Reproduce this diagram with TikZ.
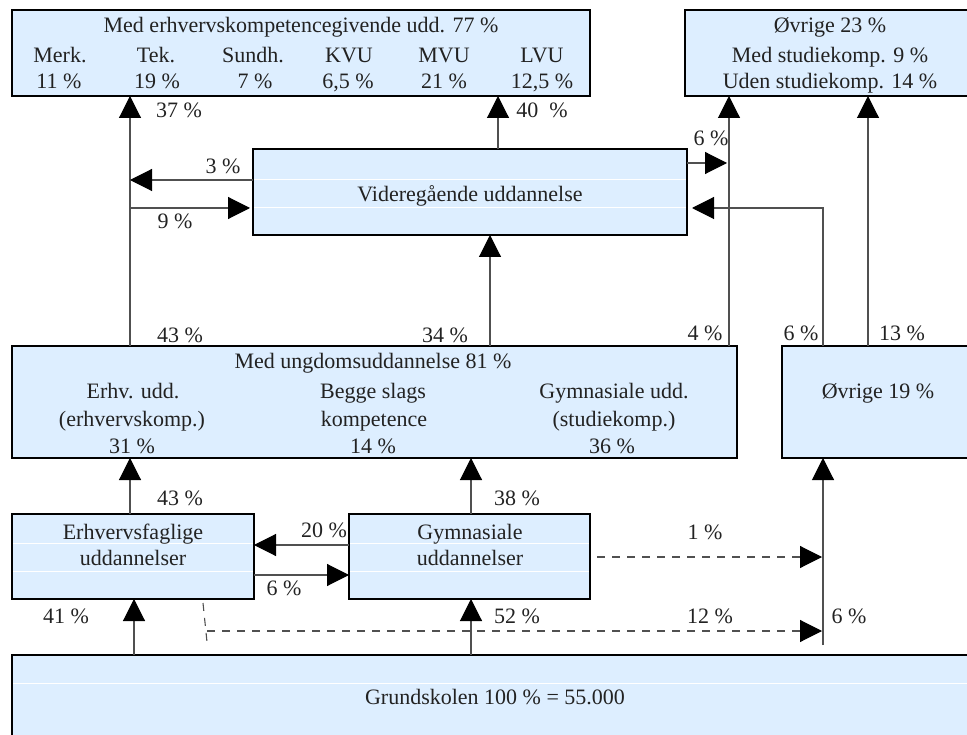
\documentclass[tikz,border=0pt]{standalone}
\usepackage{fontspec}
\setmainfont{Liberation Serif}
\usetikzlibrary{arrows.meta}
\definecolor{boxfill}{RGB}{221,238,255}
\definecolor{linec}{RGB}{80,80,80}
\definecolor{textc}{RGB}{34,34,34}
\begin{document}
\begin{tikzpicture}[x=1pt,y=-1pt,
 box/.style={draw=black, line width=1.7pt, fill=boxfill, inner sep=0pt, outer sep=0pt, anchor=north west},
 txt/.style={inner sep=0pt, anchor=base, text=textc, font=\fontsize{22}{26}\selectfont},
 conn/.style={draw=linec, line width=1.1pt, -{Triangle[length=22pt,width=22pt,black]}},
 dconn/.style={conn, dash pattern=on 8pt off 7pt},
 plainline/.style={draw=linec, line width=1.1pt},
 dplain/.style={plainline, dash pattern=on 8pt off 7pt},
 rowline/.style={draw=white, line width=0.8pt}]
\useasboundingbox (0,0) rectangle (967,735);
\clip (0,0) rectangle (967,735);

% boxes
\node[box, minimum width=578pt, minimum height=86pt] (topleft) at (12,10) {};
\node[box, minimum width=290pt, minimum height=86pt] (topright) at (685,10) {};
\node[box, minimum width=434pt, minimum height=86pt] (vid) at (253,149) {};
\node[box, minimum width=725pt, minimum height=112pt] (ungdom) at (12,346) {};
\node[box, minimum width=193pt, minimum height=112pt] (ovr) at (782,346) {};
\node[box, minimum width=242pt, minimum height=85pt] (erhv) at (12,514) {};
\node[box, minimum width=241pt, minimum height=85pt] (gym) at (349,514) {};
\node[box, minimum width=963pt, minimum height=95pt] (grund) at (12,655) {};

% faint row lines
\draw[rowline] (254,179) -- (686,179) (254,207) -- (686,207);
\draw[rowline] (13,543) -- (253,543) (13,571) -- (253,571);
\draw[rowline] (350,543) -- (589,543) (350,571) -- (589,571);
\draw[rowline] (13,683) -- (967,683);

% box texts
\node[txt] (t1) at (301,33) {Med erhvervskompetencegivende udd. 77 \%};
\node[txt] (t2) at (60,63) {Merk.};
\node[txt] (t3) at (156,63) {Tek.};
\node[txt] (t4) at (253,63) {Sundh.};
\node[txt] (t5) at (349,63) {KVU};
\node[txt] (t6) at (444,63) {MVU};
\node[txt] (t7) at (542,63) {LVU};
\node[txt] (t8) at (59,89) {11 \%};
\node[txt] (t9) at (157,89) {19 \%};
\node[txt] (t10) at (255,89) {7 \%};
\node[txt] (t11) at (348,89) {6,5 \%};
\node[txt] (t12) at (444,89) {21 \%};
\node[txt] (t13) at (542,89) {12,5 \%};

\node[txt] (r1) at (830,33) {Øvrige 23 \%};
\node[txt] (r2) at (830,63) {Med studiekomp. 9 \%};
\node[txt] (r3) at (830,89) {Uden studiekomp. 14 \%};

\node[txt] (v1) at (470,202) {Videregående uddannelse};

\node[txt] (u1) at (373,369) {Med ungdomsuddannelse 81 \%};
\node[txt] (u2) at (133,399) {Erhv. udd.};
\node[txt] (u3) at (132,426) {(erhvervskomp.)};
\node[txt] (u4) at (132,453) {31 \%};
\node[txt] (u5) at (373,399) {Begge slags};
\node[txt] (u6) at (374,426) {kompetence};
\node[txt] (u7) at (373,453) {14 \%};
\node[txt] (u8) at (614,399) {Gymnasiale udd.};
\node[txt] (u9) at (614,426) {(studiekomp.)};
\node[txt] (u10) at (612,453) {36 \%};

\node[txt] (o1) at (878,399) {Øvrige 19 \%};

\node[txt] (e1) at (133,539) {Erhvervsfaglige};
\node[txt] (e2) at (133,565) {uddannelser};
\node[txt] (g1) at (470,539) {Gymnasiale};
\node[txt] (g2) at (470,565) {uddannelser};

\node[txt] (gr) at (495,704) {Grundskolen 100 \% = 55.000};

% coordinates
\coordinate (xa) at (130,0);
\coordinate (xb) at (498,0);
\coordinate (xc) at (490,0);
\coordinate (xd) at (729,0);
\coordinate (xe) at (868,0);
\coordinate (xf) at (471,0);
\coordinate (xg) at (134,0);
\coordinate (pA) at (130,180);
\coordinate (pB) at (130,208);
\coordinate (pC) at (727,163);
\coordinate (pD) at (823,208);
\coordinate (pE) at (0,545);
\coordinate (pF) at (0,575);
\coordinate (pG) at (822,557);
\coordinate (d1) at (203,603);
\coordinate (d2) at (207,642);
\coordinate (d3) at (207,631);
\coordinate (d4) at (822,631);
\coordinate (v6) at (823,645);

% connectors
\draw[conn] (ungdom.north -| xa) -- (topleft.south -| xa);
\draw[conn] (vid.west |- pA) -- (pA);
\draw[conn] (pB) -- ([xshift=-3pt]vid.west |- pB);
\draw[conn] (vid.north -| xb) -- (topleft.south -| xb);
\draw[conn] (ungdom.north -| xc) -- (vid.south -| xc);
\draw[conn] (ungdom.north -| xd) -- (topright.south -| xd);
\draw[conn] (vid.east |- pC) -- (pC);
\draw[conn, shorten >=5pt] (ovr.north -| pD) -- (pD) -- (vid.east |- pD);
\draw[conn] (ovr.north -| xe) -- (topright.south -| xe);
\draw[conn] (erhv.north -| xa) -- (ungdom.south -| xa);
\draw[conn] (gym.north -| xf) -- (ungdom.south -| xf);
\draw[conn] (gym.west |- pE) -- (erhv.east |- pE);
\draw[conn] (erhv.east |- pF) -- (gym.west |- pF);
\draw[conn] (grund.north -| xg) -- (erhv.south -| xg);
\draw[conn] (grund.north -| xf) -- (gym.south -| xf);
\draw[dconn, shorten <=7pt] (gym.east |- pG) -- (pG);
\draw[dplain] (d1) -- (d2);
\draw[dconn] (d3) -- (d4);
\draw[conn] (v6) -- (ovr.south -| v6);

% labels
\node[txt] (l1) at (179,118) {37 \%};
\node[txt] (l2) at (542,118) {40\ \ \%};
\node[txt] (l3) at (223,174) {3 \%};
\node[txt] (l4) at (175,229) {9 \%};
\node[txt] (l5) at (711,146) {6 \%};
\node[txt] (l6) at (705,341) {4 \%};
\node[txt] (l7) at (801,341) {6 \%};
\node[txt] (l8) at (902,341) {13 \%};
\node[txt] (l9) at (180,343) {43 \%};
\node[txt] (l10) at (445,343) {34 \%};
\node[txt] (l11) at (180,505) {43 \%};
\node[txt] (l12) at (517,505) {38 \%};
\node[txt] (l13) at (324,537) {20 \%};
\node[txt] (l14) at (284,595) {6 \%};
\node[txt] (l15) at (66,623) {41 \%};
\node[txt] (l16) at (517,623) {52 \%};
\node[txt] (l17) at (705,539) {1 \%};
\node[txt] (l18) at (710,623) {12 \%};
\node[txt] (l19) at (849,623) {6 \%};
\end{tikzpicture}
\end{document}
